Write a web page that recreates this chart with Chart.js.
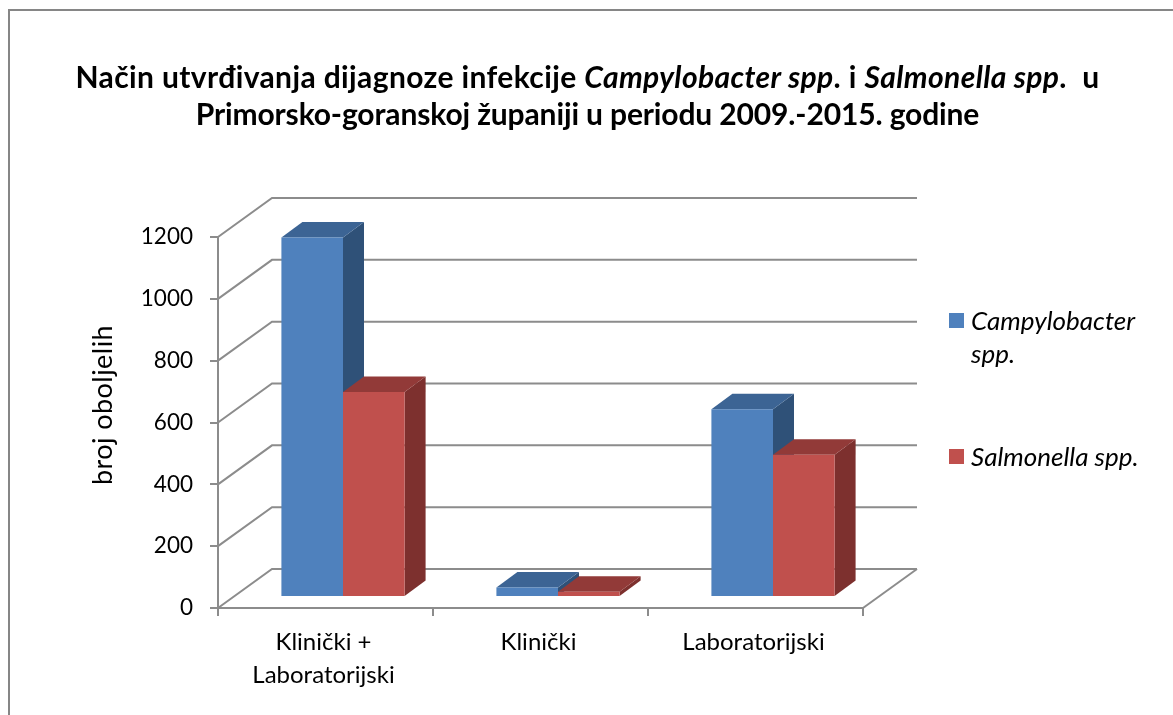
<!DOCTYPE html>
<html>
<head>
<meta charset="utf-8">
<title>Način utvrđivanja dijagnoze</title>
<script src="https://cdn.jsdelivr.net/npm/chart.js@4/dist/chart.umd.js"></script>
<style>
    html, body { margin: 0; padding: 0; background: #fff; overflow: hidden; }
    #wrap { position: relative; width: 1173px; height: 715px; font-family: Lato, sans-serif; color: #000; }
    #frame { position: absolute; left: 8px; top: 9px; width: 1300px; height: 800px; border: 2px solid #868686; }
    canvas { position: absolute; left: 0; top: 0; }
    #title { position: absolute; left: 0; width: 1175px; top: 58px; text-align: center; font-weight: bold; font-size: 30px; letter-spacing: 0.38px; line-height: 37px; white-space: pre; }
    #title .second { letter-spacing: -0.13px; }
    .legend-item { position: absolute; left: 971px; font-style: italic; font-size: 26px; line-height: 33px; }
    .legend-item i { position: absolute; left: -22px; width: 15px; height: 15px; }
</style>
</head>
<body>
<div id="wrap">
    <div id="frame"></div>
    <canvas id="chart" width="1173" height="715"></canvas>
    <div id="title">Način utvrđivanja dijagnoze infekcije <em>Campylobacter spp</em>. i <em>Salmonella spp</em>.  u
<span class="second">Primorsko-goranskoj županiji u periodu 2009.-2015. godine</span></div>
    <div id="legend"></div>
</div>
<script>
const categories = [['Klinički +', 'Laboratorijski'], 'Klinički', 'Laboratorijski'];
const campylobacter = [1163, 31, 607];
const salmonella = [663, 17, 460];
const yTitle = 'broj oboljelih';

const GRID_COLOR = '#8c8c8c';
const FONT = 'Lato, sans-serif';

// Depth of the floor/back wall, and of the bars themselves
const WALL_DX = 54, WALL_DY = -39;
const BAR_SHIFT_X = 17.5, BAR_SHIFT_Y = -11;
const BAR_DX = 21, BAR_DY = -15.5;

function poly(ctx, pts, fill) {
    ctx.beginPath();
    pts.forEach((p, i) => i ? ctx.lineTo(p[0], p[1]) : ctx.moveTo(p[0], p[1]));
    ctx.closePath();
    ctx.fillStyle = fill;
    ctx.fill();
}

// Draws the back wall, the floor edge and the fake 3D faces of the bars
const threeD = {
    id: 'threeD',
    beforeDatasetsDraw(chart) {
        const { ctx, scales: { x, y } } = chart;
        ctx.save();
        ctx.strokeStyle = GRID_COLOR;
        ctx.lineWidth = 2;
        y.ticks.forEach(t => {
            const py = y.getPixelForValue(t.value);
            ctx.beginPath();
            ctx.moveTo(x.left, py);
            ctx.lineTo(x.left + WALL_DX, py + WALL_DY);
            ctx.lineTo(x.right + WALL_DX, py + WALL_DY);
            ctx.stroke();
        });
        const py0 = y.getPixelForValue(0);
        ctx.beginPath();
        ctx.moveTo(x.right, py0);
        ctx.lineTo(x.right + WALL_DX, py0 + WALL_DY);
        ctx.stroke();

        // Top and side faces, blue first so the red top sits over the blue side
        ctx.translate(BAR_SHIFT_X, BAR_SHIFT_Y);
        chart.data.datasets.forEach((ds, i) => {
            chart.getDatasetMeta(i).data.forEach(bar => {
                const l = bar.x - bar.width / 2, r = bar.x + bar.width / 2;
                const t = bar.y, b = bar.base;
                poly(ctx, [[r, t], [r + BAR_DX, t + BAR_DY], [r + BAR_DX, b + BAR_DY], [r, b]], ds.sideColor);
                poly(ctx, [[l, t], [l + BAR_DX, t + BAR_DY], [r + BAR_DX, t + BAR_DY], [r, t]], ds.topColor);
            });
        });
        ctx.restore();
    },
    // Front faces are the library's own bars, just moved into the room
    beforeDatasetDraw(chart) {
        chart.ctx.save();
        chart.ctx.translate(BAR_SHIFT_X, BAR_SHIFT_Y);
    },
    afterDatasetDraw(chart) {
        chart.ctx.restore();
    },
    afterDraw(chart) {
        const { ctx } = chart;
        ctx.save();
        ctx.translate(103, 405);
        ctx.rotate(-Math.PI / 2);
        ctx.font = '27px ' + FONT;
        ctx.letterSpacing = '0.45px';
        ctx.fillStyle = '#000';
        ctx.textAlign = 'center';
        ctx.textBaseline = 'middle';
        ctx.fillText(yTitle, 0, 0);
        ctx.restore();
    }
};

const chart = new Chart(document.getElementById('chart'), {
    type: 'bar',
    data: {
        labels: categories,
        datasets: [
            { label: 'Campylobacter spp.', data: campylobacter, backgroundColor: '#4f81bd', topColor: '#3c6494', sideColor: '#2f5178', clip: false },
            { label: 'Salmonella spp.', data: salmonella, backgroundColor: '#c0504d', topColor: '#923a38', sideColor: '#7d302e', clip: false },
        ]
    },
    options: {
        responsive: false,
        animation: false,
        events: [],
        layout: { padding: { left: 90, top: 237, right: 310, bottom: 0 } },
        categoryPercentage: 0.573,
        barPercentage: 1,
        plugins: { legend: { display: false }, tooltip: { enabled: false } },
        scales: {
            x: {
                afterFit(scale) { scale.height = 107; },
                border: { color: GRID_COLOR, width: 2 },
                grid: { drawOnChartArea: false, color: GRID_COLOR, lineWidth: 2, tickLength: 8 },
                ticks: { color: '#000', padding: 10, labelOffset: -2, maxRotation: 0, autoSkip: false, font: { family: FONT, size: 24, lineHeight: 1.37 } },
            },
            y: {
                min: 0,
                max: 1200,
                afterFit(scale) { scale.width = 128; },
                border: { color: GRID_COLOR, width: 2 },
                grid: { drawOnChartArea: false, color: GRID_COLOR, lineWidth: 2, tickLength: 8 },
                ticks: { color: '#000', stepSize: 200, padding: 17, callback: v => String(v), font: { family: FONT, size: 22.5 } },
            }
        }
    },
    plugins: [threeD]
});

// Legend is HTML so the long name can wrap like in the original
const legendTops = [304, 440];
document.getElementById('legend').innerHTML = chart.data.datasets.map((ds, i) => {
    const width = i === 0 ? 'width:170px;' : '';
    return `<div class="legend-item" style="top:${legendTops[i]}px;${width}"><i style="top:9px;background:${ds.backgroundColor}"></i>${ds.label}</div>`;
}).join('');
</script>
</body>
</html>
